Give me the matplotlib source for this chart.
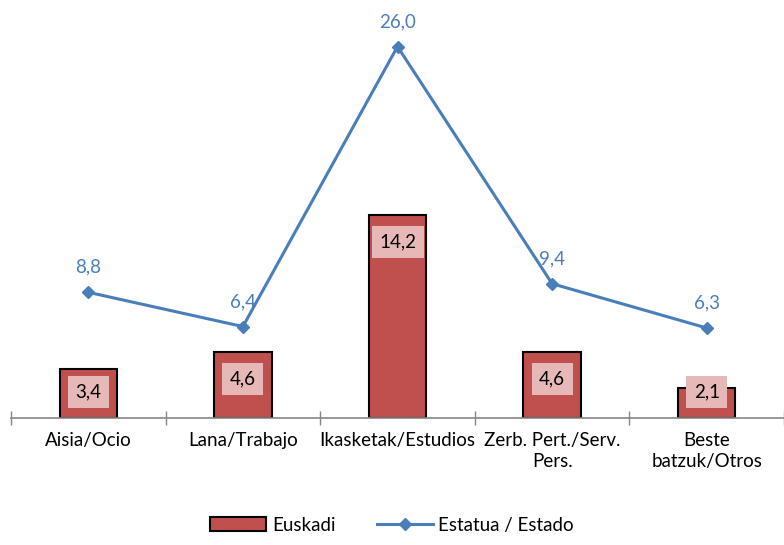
import numpy as np
import matplotlib.pyplot as plt

plt.rcParams['font.family'] = ['Lato', 'DejaVu Sans']

categories = ['Aisia/Ocio', 'Lana/Trabajo', 'Ikasketak/Estudios',
              'Zerb. Pert./Serv.\nPers.', 'Beste\nbatzuk/Otros']
euskadi = [3.4, 4.6, 14.2, 4.6, 2.1]
estado = [8.8, 6.4, 26.0, 9.4, 6.3]

bar_red = '#c0504d'
label_pink = '#e6b9b8'
line_blue = '#4a7ebb'

fig = plt.figure(figsize=(7.84, 5.45), dpi=100)
ax = fig.add_axes([11 / 784, 127 / 545, 773 / 784, 400 / 545])

x = np.arange(len(categories))
bars = ax.bar(x, euskadi, width=0.37, color=bar_red, edgecolor='black', linewidth=1.5,
              label='Euskadi', zorder=2)
line, = ax.plot(x, estado, color=line_blue, linewidth=2.2, marker='D', markersize=6,
                label='Estatua / Estado', zorder=3)

def fmt(v):
    return f'{v:.1f}'.replace('.', ',')

# data labels inside the bars, pushed up a bit when the bar is short
for xi, v in zip(x, euskadi):
    ax.text(xi, max(v - 1.85, 1.82), fmt(v), ha='center', va='center', fontsize=13.5,
            color='black', zorder=4,
            bbox=dict(boxstyle='square,pad=0.4', facecolor=label_pink, edgecolor='none'))

for xi, v in zip(x, estado):
    ax.annotate(fmt(v), (xi, v), xytext=(0, 12), textcoords='offset points',
                ha='center', va='bottom', fontsize=13.5, color=line_blue)

ax.set_xlim(-0.5, -0.5 + 773 / 156)
ax.set_ylim(0, 28)
ax.set_xticks(x)
ax.set_xticklabels(categories, fontsize=13.5, va='top', linespacing=1.3)
ax.set_xticks(np.arange(len(categories) + 1) - 0.5, minor=True)
ax.tick_params(axis='x', which='major', length=0, pad=10)
ax.tick_params(axis='x', which='minor', direction='inout', length=9.5,
               color='#868686', width=1)
ax.set_yticks([])
for s in ['top', 'right', 'left']:
    ax.spines[s].set_visible(False)
ax.spines['bottom'].set_color('#868686')
ax.spines['bottom'].set_linewidth(1.2)

fig.legend([bars, line], ['Euskadi', 'Estatua / Estado'], loc='lower center',
           bbox_to_anchor=(0.5, -0.01), ncol=2, frameon=False,
           fontsize=13.5, handlelength=3.0, columnspacing=2.2, handletextpad=0.3)

fig.savefig('out.png', dpi=100)
